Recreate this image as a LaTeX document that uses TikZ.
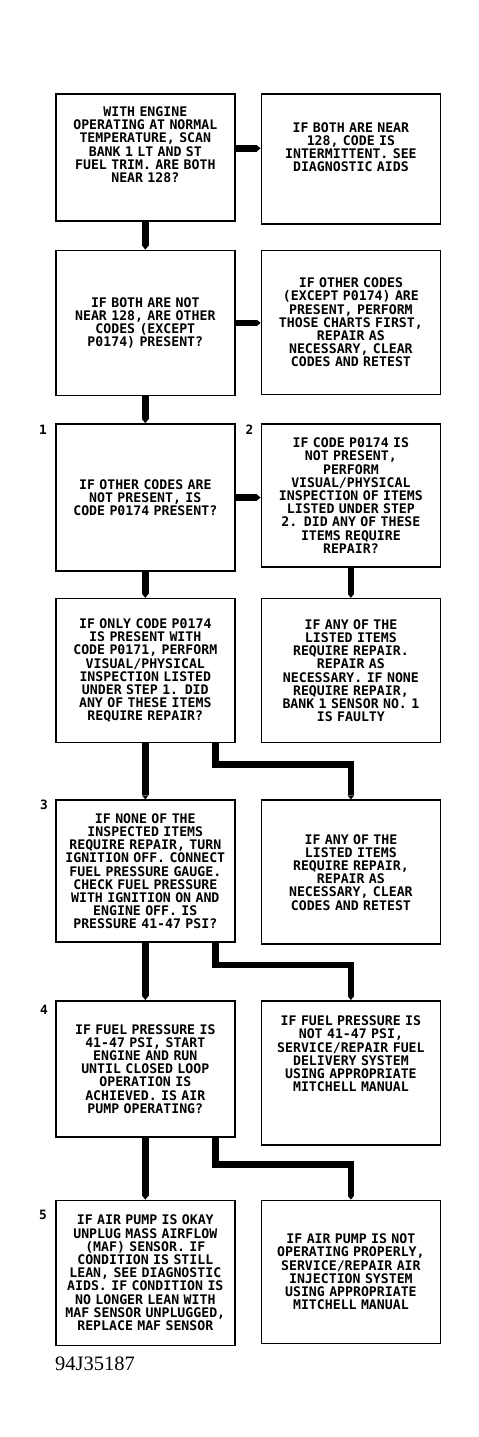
\documentclass[tikz,border=0pt]{standalone}
\usepackage{fontspec}
\usepackage{tikz}
\usetikzlibrary{arrows.meta, positioning}
\newfontfamily\plotfont{DejaVu Sans Mono}
\newfontfamily\figfont{Liberation Serif}

\begin{document}
\begin{tikzpicture}[x=1pt, y=1pt,
   box/.style={draw=black, line width=1.6pt, inner xsep=4.5pt, inner ysep=3pt,
               text width=170pt, align=center,
               font=\plotfont\bfseries\fontsize{13.2pt}{13.2pt}\selectfont},
   flow/.style={draw=black, line width=6.5pt,
                -{Triangle[length=4pt, width=6.5pt, line width=0pt]}},
   stepnum/.style={font=\plotfont\bfseries\fontsize{12.8pt}{13pt}\selectfont,
                   inner sep=0pt, anchor=north east},
   figlabel/.style={font=\figfont\fontsize{20.5pt}{24pt}\selectfont, inner sep=0pt}]
  \useasboundingbox (0,0) rectangle (479,-1437);

  \node[box, minimum height=127pt, anchor=north west] (q1) at (55,-93)
    {WITH ENGINE\\OPERATING AT NORMAL\\TEMPERATURE, SCAN\\BANK 1 LT AND ST\\FUEL TRIM. ARE BOTH\\NEAR 128?\\[12pt]~};
  \node[box, minimum height=130pt, right=25pt of q1.north east, anchor=north west] (a1)
    {IF BOTH ARE NEAR\\128, CODE IS\\INTERMITTENT. SEE\\DIAGNOSTIC AIDS\\[10pt]~};

  \node[box, minimum height=145pt, below=28pt of q1] (q2)
    {IF BOTH ARE NOT\\NEAR 128, ARE OTHER\\CODES (EXCEPT\\P0174) PRESENT?};
  \node[box, minimum height=144pt, right=25pt of q2.north east, anchor=north west] (a2)
    {IF OTHER CODES\\(EXCEPT P0174) ARE\\PRESENT, PERFORM\\THOSE CHARTS FIRST,\\REPAIR AS\\NECESSARY, CLEAR\\CODES AND RETEST};

  \node[box, minimum height=147pt, below=27pt of q2] (q3)
    {IF OTHER CODES ARE\\NOT PRESENT, IS\\CODE P0174 PRESENT?};
  \node[box, minimum height=143pt, right=25pt of q3.north east, anchor=north west] (a3)
    {IF CODE P0174 IS\\NOT PRESENT,\\PERFORM\\VISUAL/PHYSICAL\\INSPECTION OF ITEMS\\LISTED UNDER STEP\\2. DID ANY OF THESE\\ITEMS REQUIRE\\REPAIR?};

  \node[box, minimum height=144pt, below=26pt of q3] (q4)
    {IF ONLY CODE P0174\\IS PRESENT WITH\\CODE P0171, PERFORM\\VISUAL/PHYSICAL\\INSPECTION LISTED\\UNDER STEP 1. DID\\ANY OF THESE ITEMS\\REQUIRE REPAIR?};
  \node[box, minimum height=144pt, right=25pt of q4.north east, anchor=north west] (a4)
    {IF ANY OF THE\\LISTED ITEMS\\REQUIRE REPAIR.\\REPAIR AS\\NECESSARY. IF NONE\\REQUIRE REPAIR,\\BANK 1 SENSOR NO. 1\\IS FAULTY};

  \node[box, minimum height=142pt, below=56pt of q4] (q5)
    {IF NONE OF THE\\INSPECTED ITEMS\\REQUIRE REPAIR, TURN\\IGNITION OFF. CONNECT\\FUEL PRESSURE GAUGE.\\CHECK FUEL PRESSURE\\WITH IGNITION ON AND\\ENGINE OFF. IS\\PRESSURE 41-47 PSI?};
  \node[box, minimum height=144pt, right=25pt of q5.north east, anchor=north west] (a5)
    {IF ANY OF THE\\LISTED ITEMS\\REQUIRE REPAIR,\\REPAIR AS\\NECESSARY, CLEAR\\CODES AND RETEST};

  \node[box, minimum height=136pt, below=57pt of q5] (q6)
    {IF FUEL PRESSURE IS\\41-47 PSI, START\\ENGINE AND RUN\\UNTIL CLOSED LOOP\\OPERATION IS\\ACHIEVED. IS AIR\\PUMP OPERATING?};
  \node[box, minimum height=144pt, right=25pt of q6.north east, anchor=north west] (a6)
    {IF FUEL PRESSURE IS\\NOT 41-47 PSI,\\SERVICE/REPAIR FUEL\\DELIVERY SYSTEM\\USING APPROPRIATE\\MITCHELL MANUAL\\[25pt]~};

  \node[box, minimum height=145pt, below=62pt of q6] (q7)
    {IF AIR PUMP IS OKAY\\UNPLUG MASS AIRFLOW\\(MAF) SENSOR. IF\\CONDITION IS STILL\\LEAN, SEE DIAGNOSTIC\\AIDS. IF CONDITION IS\\NO LONGER LEAN WITH\\MAF SENSOR UNPLUGGED,\\REPLACE MAF SENSOR};
  \node[box, minimum height=143pt, right=25pt of q7.north east, anchor=north west] (a7)
    {IF AIR PUMP IS NOT\\OPERATING PROPERLY,\\SERVICE/REPAIR AIR\\INJECTION SYSTEM\\USING APPROPRIATE\\MITCHELL MANUAL};

  \node[stepnum] (n1) at ([xshift=-8pt, yshift=-2pt]q3.north west) {1};
  \node[stepnum] (n2) at ([xshift=-7pt, yshift=-2pt]a3.north west) {2};
  \node[stepnum] (n3) at ([xshift=-7pt, yshift=0pt]q5.north west) {3};
  \node[stepnum] (n4) at ([xshift=-7pt, yshift=-5pt]q6.north west) {4};
  \node[stepnum] (n5) at ([xshift=-8pt, yshift=-10pt]q7.north west) {5};

  \node[figlabel, below=10pt of q7.south west, anchor=north west] (fig) {94J35187};

  \draw[flow] ([yshift=9pt]q1.east) -- ([yshift=9pt]q1.east -| a1.west);
  \draw[flow] (q2.east) -- (q2.east -| a2.west);
  \draw[flow] (q3.east) -- (q3.east -| a3.west);
  \draw[flow] (q1) -- (q2);
  \draw[flow] (q2) -- (q3);
  \draw[flow] (q3) -- (q4);
  \draw[flow] (a3) -- (a4);
  \draw[flow] (q4) -- (q5);
  \draw[flow] (q5) -- (q6);
  \draw[flow] (q6) -- (q7);
  \draw[flow] ([xshift=70pt]q4.south) -- ++(0,-21pt) -| (a5.north);
  \draw[flow] ([xshift=70pt]q5.south) -- ++(0,-22pt) -| (a6.north);
  \draw[flow] ([xshift=70pt]q6.south) -- ++(0,-27pt) -| (a7.north);
\end{tikzpicture}
\end{document}
